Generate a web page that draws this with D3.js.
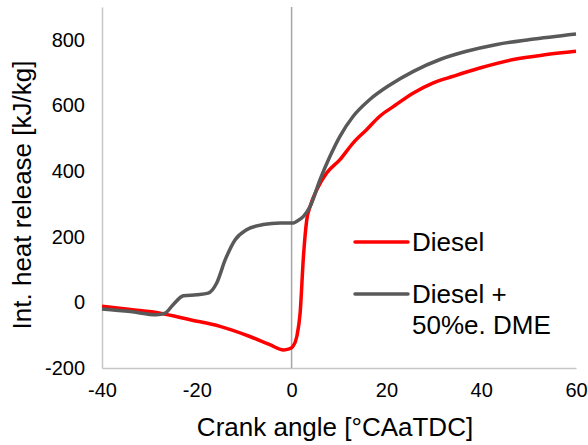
<!DOCTYPE html>
<html>
<head>
<meta charset="utf-8">
<script src="https://cdn.jsdelivr.net/npm/d3@7"></script>
<style>
  html, body { margin: 0; padding: 0; background: #fff; }
  svg { display: block; font-family: "Liberation Sans", Arial, sans-serif; }
</style>
</head>
<body>
<svg id="chart" width="588" height="445"></svg>
<script>
// Crank angle [°CAaTDC] and integrated heat release [kJ/kg]
const dieselAngle = [-40, -34, -27.7, -21.4, -15.1, -8.8, -4.6, -1.7, -0.5, 0.3, 1.1, 1.8, 2.5, 3.2, 3.9, 5.3, 7.4, 10.2, 13, 15.8, 18.6, 21.5, 25.7, 29.9, 34.1, 39.7, 46.8, 53.8, 60];
const dieselHR    = [-12, -22, -33, -53, -73, -104, -129, -145, -142, -134, -104, -32, 140, 252, 292, 343, 394, 435, 486, 526, 567, 597, 638, 669, 689, 714, 740, 755, 765];

const dmeAngle = [-40, -34, -28.5, -26.7, -25, -22.8, -20, -17.6, -15.8, -14, -11.9, -9.5, -6, -2.4, 0.4, 1.1, 2.5, 3.9, 6, 8.1, 10.2, 13, 16.5, 20.8, 25.7, 31.3, 36.9, 43.3, 50.3, 60];
const dmeHR    = [-20, -28, -38, -33, -7, 20, 23, 28, 59, 130, 191, 221, 237, 242, 242, 247, 262, 292, 374, 445, 506, 567, 618, 663, 704, 740, 765, 786, 801, 818];

const xTicks = [-40, -20, 0, 20, 40, 60];
const yTicks = [-200, 0, 200, 400, 600, 800];

const seriesNames = ["Diesel", "Diesel + 50%e. DME"];
const seriesColors = ["#ff0000", "#595959"];

const svg = d3.select("#chart");
const plotLeft = 102, plotRight = 576, plotTop = 7, plotBottom = 368;

const x = d3.scaleLinear().domain([-40, 60]).range([plotLeft, plotRight]);
const y = d3.scaleLinear().domain([-200, 900]).range([plotBottom, plotTop]);

// Plain hyphen for negative numbers
const fmt = d => String(d);

// Axes: plain gray lines without tick marks
const xAxis = svg.append("g")
  .attr("transform", `translate(0,${plotBottom})`)
  .call(d3.axisBottom(x).tickValues(xTicks).tickSize(0).tickPadding(15).tickFormat(fmt));
xAxis.select(".domain").attr("stroke", "#c6c6c6").attr("stroke-width", 1.5);
xAxis.selectAll("text").attr("font-size", 20).attr("fill", "#000").attr("font-family", "Liberation Sans, Arial, sans-serif");

const yAxis = svg.append("g")
  .attr("transform", `translate(${plotLeft},0)`)
  .call(d3.axisLeft(y).tickValues(yTicks).tickSize(0).tickPadding(17).tickFormat(fmt));
yAxis.select(".domain").attr("stroke", "#c6c6c6").attr("stroke-width", 1.5);
yAxis.selectAll("text").attr("font-size", 20).attr("fill", "#000").attr("font-family", "Liberation Sans, Arial, sans-serif");

// TDC marker line
svg.append("line")
  .attr("x1", x(0)).attr("x2", x(0))
  .attr("y1", y(900)).attr("y2", y(-200))
  .attr("stroke", "#a6a6a6").attr("stroke-width", 1.5);

const line = d3.line()
  .x(d => x(d[0]))
  .y(d => y(d[1]))
  .curve(d3.curveMonotoneX);

const series = [
  d3.zip(dieselAngle, dieselHR),
  d3.zip(dmeAngle, dmeHR)
];

svg.append("path")
  .datum(series[0])
  .attr("fill", "none")
  .attr("stroke", seriesColors[0])
  .attr("stroke-width", 3.5)
  .attr("stroke-linejoin", "round")
  .attr("d", line);

svg.append("path")
  .datum(series[1])
  .attr("fill", "none")
  .attr("stroke", seriesColors[1])
  .attr("stroke-width", 3.5)
  .attr("stroke-linejoin", "round")
  .attr("d", line);

// Axis titles
svg.append("text")
  .attr("x", 335)
  .attr("y", 436)
  .attr("text-anchor", "middle")
  .attr("font-size", 26)
  .attr("fill", "#000")
  .text("Crank angle [°CAaTDC]");

svg.append("text")
  .attr("transform", `translate(31,195) rotate(-90)`)
  .attr("text-anchor", "middle")
  .attr("font-size", 26)
  .attr("fill", "#000")
  .text("Int. heat release [kJ/kg]");

// Legend
const legend = svg.append("g");
const legendRows = [
  { y: 242, lines: ["Diesel"] },
  { y: 294, lines: ["Diesel +", "50%e. DME"] }
];
legendRows.forEach((row, i) => {
  legend.append("line")
    .attr("x1", 355).attr("x2", 408)
    .attr("y1", row.y).attr("y2", row.y)
    .attr("stroke", seriesColors[i])
    .attr("stroke-width", 3.5)
    .attr("stroke-linecap", "round");
  const t = legend.append("text")
    .attr("x", 412)
    .attr("y", row.y + 9)
    .attr("font-size", 26)
    .attr("fill", "#000");
  row.lines.forEach((s, k) => {
    t.append("tspan").attr("x", 412).attr("dy", k === 0 ? 0 : 30.6).text(s);
  });
});
</script>
</body>
</html>
